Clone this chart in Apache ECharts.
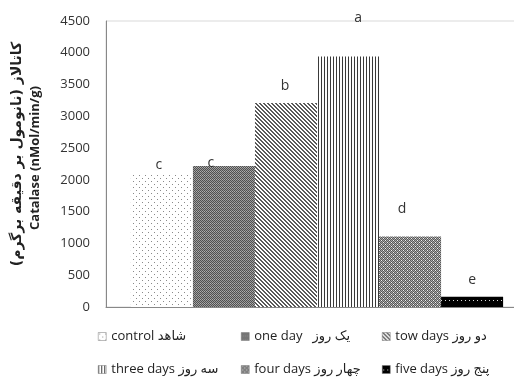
<!DOCTYPE html>
<html><head><meta charset="utf-8">
<script src="https://cdn.jsdelivr.net/npm/echarts@6/dist/echarts.min.js"></script>
<style>html,body{margin:0;padding:0;background:#fff;overflow:hidden}#c{width:528px;height:383px}</style>
</head><body><div id="c"></div>
<script>
const seriesNames = ['control شاهد', 'one day   یک روز', 'tow days دو روز', 'three days سه روز', 'four days چهار روز', 'five days پنج روز'];
const values = [2100, 2220, 3210, 3940, 1110, 160];
const letters = ['c', 'c', 'b', 'a', 'd', 'e'];
const yTicks = [0, 500, 1000, 1500, 2000, 2500, 3000, 3500, 4000, 4500];
const yTitleFa = 'کاتالاز (نانومول بر دقیقه برگرم)';
const yTitleEn = 'Catalase (nMol/min/g)';

function pat(w, h, draw) {
  const c = document.createElement('canvas'); c.width = w; c.height = h;
  const g = c.getContext('2d'); draw(g, w, h);
  return { image: c, repeat: 'repeat' };
}
function px(g, x, y, col) { g.fillStyle = col; g.fillRect(x, y, 1, 1); }
const patterns = [
  pat(6, 6, (g, w, h) => { g.fillStyle = '#fff'; g.fillRect(0,0,w,h); px(g,1,1,'#8a8a8a'); px(g,4,4,'#8a8a8a'); }),
  pat(4, 4, (g, w, h) => { for (let y=0;y<h;y++) for (let x=0;x<w;x++) px(g,x,y,((x+y)%2)? (y===3?'#b0b0b0':'#9a9a9a') : '#505050'); }),
  pat(4, 4, (g, w, h) => { g.fillStyle = '#fff'; g.fillRect(0,0,w,h); for (let y=0;y<h;y++) for (let x=0;x<w;x++) if (((x - y) % 4 + 4) % 4 < 2) px(g,x,y,'#5a5a5a'); }),
  pat(3, 1, (g, w, h) => { g.fillStyle = '#fff'; g.fillRect(0,0,w,h); px(g,0,0,'#3a3a3a'); }),
  pat(4, 4, (g, w, h) => { for (let y=0;y<h;y++) for (let x=0;x<w;x++) px(g,x,y,((x+y)%2)? '#a8a8a8' : '#585858'); px(g,1,0,'#f0f0f0'); px(g,3,2,'#f0f0f0'); }),
  pat(4, 8, (g, w, h) => { g.fillStyle = '#000'; g.fillRect(0,0,w,h); px(g,1,4,'#ddd'); })
];
const labelOffsets = [[-3, 0], [-13, 4], [-1, 0], [10, 0], [-8, 0], [0, 0]];
const labelDist = [2, 0, 10, 32, 20, 10];

const series = seriesNames.map((n, i) => ({
  name: n, type: 'bar', barGap: '0%', barCategoryGap: '11.8%',
  data: [values[i]],
  itemStyle: { color: patterns[i] },
  label: { show: true, position: 'top', distance: labelDist[i], offset: labelOffsets[i],
    formatter: () => letters[i], fontSize: 14, color: '#333', fontFamily: "'Open Sans', 'DejaVu Sans', sans-serif" }
}));

const legFont = { fontSize: 13, color: '#222', fontFamily: "'Open Sans', 'DejaVu Sans', sans-serif" };
const legLefts = [98, 241, 382, 98, 241, 382];
const legTops = [330, 330, 330, 363, 363, 363];
const legends = seriesNames.map((n, i) => ({
  data: [n], left: legLefts[i], top: legTops[i],
  itemWidth: 8, itemHeight: 8, icon: 'rect', textStyle: legFont, padding: 0,
  itemStyle: { borderColor: '#777', borderWidth: 0.5 }
}));

const chart = echarts.init(document.getElementById('c'), null, { renderer: 'canvas' });
chart.setOption({
  animation: false,
  backgroundColor: '#fff',
  grid: { left: 106, right: 0, top: 21, bottom: 76, show: true, borderColor: '#d9d9d9', borderWidth: 1 },
  legend: legends,
  xAxis: { type: 'category', data: [''], axisTick: { show: false }, axisLabel: { show: false },
    axisLine: { lineStyle: { color: '#888' } } },
  yAxis: { type: 'value', min: yTicks[0], max: yTicks[yTicks.length - 1], interval: yTicks[1] - yTicks[0],
    splitLine: { show: false }, axisTick: { show: false },
    axisLine: { show: true, lineStyle: { color: '#888' } },
    axisLabel: { fontSize: 13, color: '#333', margin: 16, formatter: v => String(v),
      fontFamily: "'Open Sans', sans-serif" },
    name: '{fa|' + yTitleFa + '}\n{en|' + yTitleEn + '}', nameLocation: 'middle', nameRotate: 90, nameGap: 62,
    nameTextStyle: { rich: {
      fa: { fontSize: 14, fontWeight: 'bold', color: '#222', fontFamily: "'DejaVu Sans', sans-serif", lineHeight: 18, padding: [0, 0, 0, 20] },
      en: { fontSize: 13, fontWeight: 'bold', color: '#222', fontFamily: "'Open Sans', sans-serif", lineHeight: 18, padding: [0, 0, 0, 12] }
    } } },
  series: series
});
</script></body></html>
